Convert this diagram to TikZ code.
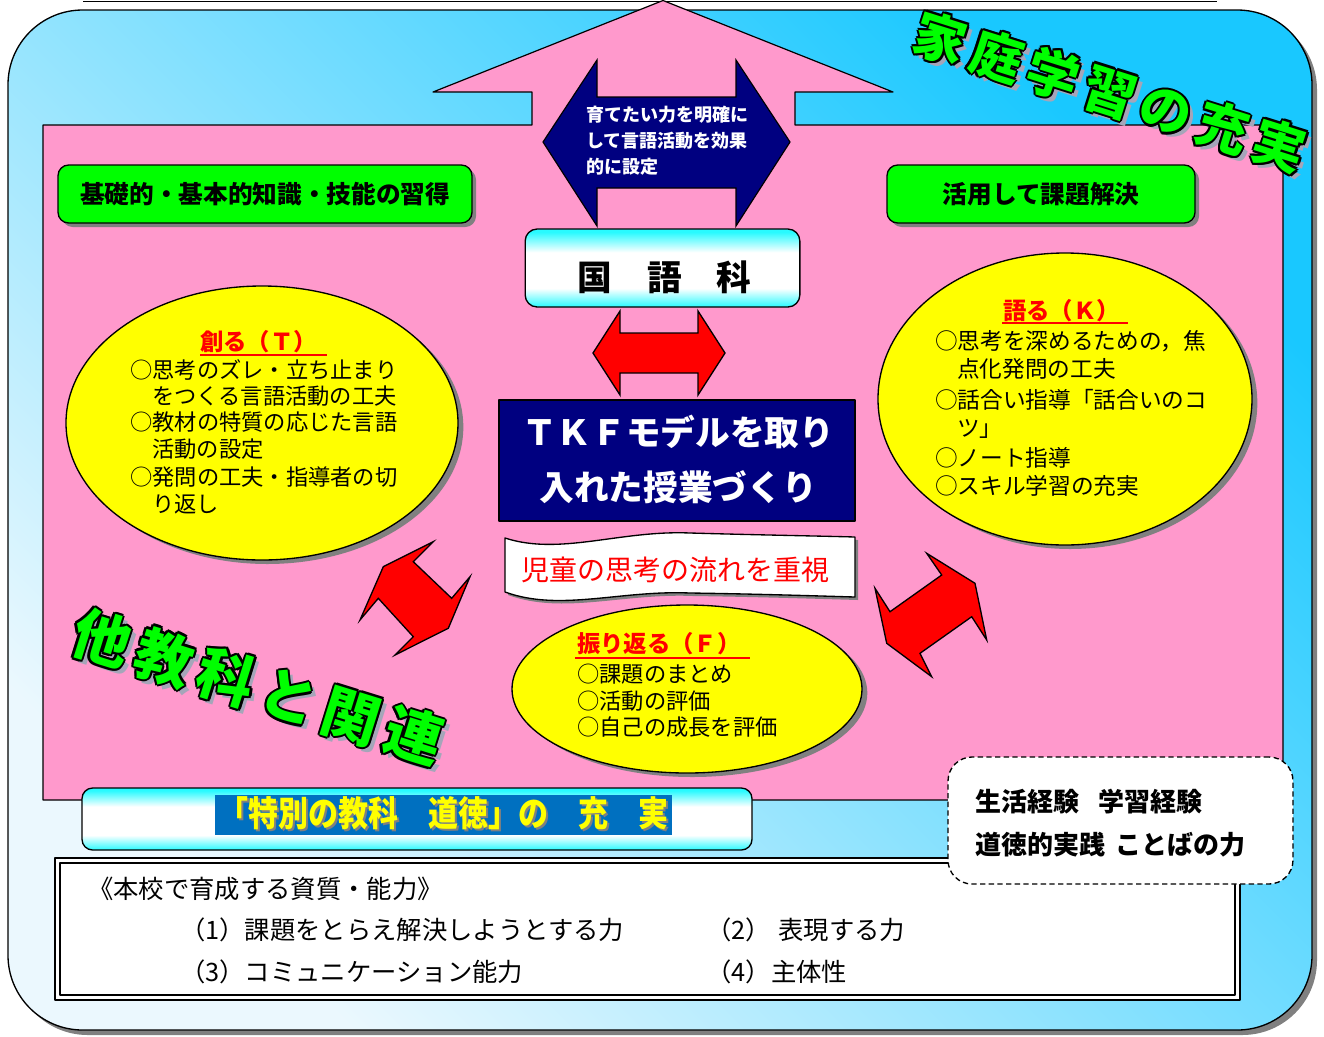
\documentclass[tikz,border=0pt]{standalone}
\usepackage{fontspec}
\setmainfont{Noto Sans CJK JP}
\usetikzlibrary{shapes.geometric,shadows}
\definecolor{pinkbg}{RGB}{255,153,204}
\definecolor{navyc}{RGB}{0,0,128}
\definecolor{greenc}{RGB}{0,255,0}
\definecolor{skyA}{RGB}{25,200,255}
\definecolor{skyM}{RGB}{150,222,252}
\definecolor{skyB}{RGB}{235,248,254}
\definecolor{cyanA}{RGB}{40,250,255}
\definecolor{shadowgray}{RGB}{128,128,128}
\definecolor{bandblue}{RGB}{0,112,192}
\definecolor{titleshadow}{RGB}{165,165,185}
\definecolor{yellowc}{RGB}{255,255,0}
\pgfdeclareverticalshading{cyanband}{100bp}{color(0bp)=(cyanA); color(25bp)=(cyanA); color(37bp)=(white); color(60bp)=(white); color(73bp)=(cyanA); color(100bp)=(cyanA)}
\tikzset{
  boxshadow/.style={drop shadow={shadow xshift=3pt, shadow yshift=-3pt, fill=shadowgray, opacity=1}},
  greenbox/.style={draw, line width=1pt, fill=greenc, rounded corners=8pt, boxshadow, font=\bfseries\fontsize{18.5}{20}\selectfont, inner sep=0pt},
  yellowell/.style={ellipse, draw, line width=1pt, fill=yellowc, inner sep=0pt, drop shadow={shadow xshift=4pt, shadow yshift=-3pt, fill=shadowgray, opacity=1}},
  elltext/.style={anchor=base west, inner sep=0pt, font=\fontsize{16.7}{18}\selectfont},
  elltitle/.style={anchor=base west, inner sep=0pt, text=red, font=\bfseries\fontsize{17.5}{18}\selectfont},
  redarrow/.style={fill=red, draw=black, line width=1pt, line join=miter},
  cyanbox/.style={draw, line width=1pt, shading=cyanband, rounded corners=9pt, inner sep=0pt},
  smallwhite/.style={anchor=base west, inner sep=0pt, text=white, font=\bfseries\fontsize{13.5}{15}\selectfont},
  bottomtext/.style={anchor=base west, inner sep=0pt, font=\fontsize{19}{20}\selectfont},
}
\newcommand{\bigtitle}[6]{%
  \node[rotate=#4, text=titleshadow, inner sep=0pt, font={\bfseries\fontsize{#5}{#5}\selectfont}] at (#2+5,#3+5) {#6};
  \foreach \ox/\oy in {2.2/0,-2.2/0,0/2.2,0/-2.2,1.6/1.6,1.6/-1.6,-1.6/1.6,-1.6/-1.6}
    \node[rotate=#4, text=black, inner sep=0pt, font={\bfseries\fontsize{#5}{#5}\selectfont}] at (#2+\ox,#3+\oy) {#6};
  \node[rotate=#4, text=greenc, inner sep=0pt, font={\bfseries\fontsize{#5}{#5}\selectfont}] (#1) at (#2,#3) {#6};
}
\newcommand{\gp}{\hspace{0.14em}}
\begin{document}
\begin{tikzpicture}[x=0.75pt,y=-0.75pt, line join=round]
\useasboundingbox (0,0) rectangle (1324,1036);

% top line
\draw[line width=1.2pt] (83,1.5) -- (1217,1.5);

% outer rounded panel
\fill[shadowgray, rounded corners=56pt] (13,15) rectangle (1317,1035);
\shade[top color=skyA, middle color=skyM, bottom color=skyB, shading angle=-45, rounded corners=56pt] (8,10) rectangle (1312,1030);
\draw[line width=1pt, rounded corners=56pt] (8,10) rectangle (1312,1030);

% pink house-arrow
\draw[fill=pinkbg, line width=0.9pt] (43,125) -- (532,125) -- (532,92) -- (433,92) -- (663,0.5) -- (893,92) -- (795,92) -- (795,125) -- (1283,125) -- (1283,800) -- (43,800) -- cycle;

% navy double arrow
\draw[fill=navyc, line width=0.9pt, line join=miter] (543,142) -- (597,60) -- (597,97) -- (736,97) -- (736,60) -- (790,142) -- (736,226) -- (736,188) -- (597,188) -- (597,226) -- cycle;
\node[smallwhite] (goal1) at (586,121.3) {育てたい力を明確に};
\node[smallwhite] (goal2) at (586,147.8) {して言語活動を効果};
\node[smallwhite] (goal3) at (586,173.8) {的に設定};

% green boxes
\node[greenbox, minimum width=310.5pt, minimum height=43.5pt] (kiso) at (265,194) {基礎的・基本的知識・技能の習得};
\node[greenbox, minimum width=231pt, minimum height=43.5pt] (katsuyo) at (1041,194) {活用して課題解決};

% kokugo box
\node[cyanbox, minimum width=206pt, minimum height=58.5pt] (kokugo) at (662.5,268) {};
\node[inner sep=0pt, font=\bfseries\fontsize{26}{28}\selectfont] (kokugotext) at (664.5,277) {国　語　科};

% red horizontal double arrow
\draw[redarrow] (593,353) -- (620,311) -- (620,333) -- (698,333) -- (698,311) -- (725,353) -- (698,395) -- (698,373) -- (620,373) -- (620,395) -- cycle;

% TKF box
\node[draw=black, line width=1.5pt, fill=navyc, minimum width=267pt, minimum height=90.75pt, inner sep=0pt] (tkf) at (677,460.5) {};
\node[anchor=base, text=white, inner sep=0pt, font=\bfseries\fontsize{26}{28}\selectfont] (tkf1) at (678,445) {ＴＫＦモデルを取り};
\node[anchor=base, text=white, inner sep=0pt, font=\bfseries\fontsize{26}{28}\selectfont] (tkf2) at (678,500) {入れた授業づくり};

% wave banner
\fill[shadowgray, shift={(3,3)}] (505,538) .. controls (560,556) and (620,530) .. (690,533) .. controls (760,535) and (820,536) .. (855,537) -- (855,597) .. controls (820,596) and (760,594) .. (690,593) .. controls (620,590) and (560,612) .. (505,592) -- cycle;
\draw[fill=white, line width=1pt] (505,538) .. controls (560,556) and (620,530) .. (690,533) .. controls (760,535) and (820,536) .. (855,537) -- (855,597) .. controls (820,596) and (760,594) .. (690,593) .. controls (620,590) and (560,612) .. (505,592) -- cycle;
\node[anchor=base, inner sep=0pt, text=red, font=\fontsize{21}{22}\selectfont] (flow) at (675,580) {児童の思考の流れを重視};

% ellipses
\node[yellowell, minimum width=294pt, minimum height=205.5pt] (ellT) at (262,423) {};
\node[yellowell, minimum width=280.5pt, minimum height=219pt] (ellK) at (1065,399) {};
\node[yellowell, minimum width=262.5pt, minimum height=126pt] (ellF) at (687,689) {};

% T ellipse text
\node[elltitle] (ttitle) at (200,350) {創る（Ｔ）};
\draw[red, line width=1.5pt] (200,355) -- (327,355);
\node[elltext] (t1) at (130,378.5) {○思考のズレ・立ち止まり};
\node[elltext] (t2) at (152,404.5) {をつくる言語活動の工夫};
\node[elltext] (t3) at (130,430.5) {○教材の特質の応じた言語};
\node[elltext] (t4) at (152,457.5) {活動の設定};
\node[elltext] (t5) at (130,485) {○発問の工夫・指導者の切};
\node[elltext] (t6) at (152,512) {り返し};

% K ellipse text
\node[elltitle] (ktitle) at (1003,319) {語る（Ｋ）};
\draw[red, line width=1.5pt] (1002,323) -- (1128,323);
\node[elltext, font=\fontsize{17}{18}\selectfont] (k1) at (935,349) {○思考を深めるための，焦};
\node[elltext, font=\fontsize{17}{18}\selectfont] (k2) at (957,377) {点化発問の工夫};
\node[elltext, font=\fontsize{17}{18}\selectfont] (k3) at (935,408) {○話合い指導「話合いのコ};
\node[elltext, font=\fontsize{17}{18}\selectfont] (k4) at (957,436) {ツ」};
\node[elltext, font=\fontsize{17}{18}\selectfont] (k5) at (935,466.5) {○ノート指導};
\node[elltext, font=\fontsize{17}{18}\selectfont] (k6) at (935,494) {○スキル学習の充実};

% F ellipse text
\node[elltitle] (ftitle) at (577,652) {振り返る（Ｆ）};
\draw[red, line width=1.5pt] (575,657.5) -- (750,657.5);
\node[elltext] (f1) at (577,682.5) {○課題のまとめ};
\node[elltext] (f2) at (577,709.5) {○活動の評価};
\node[elltext] (f3) at (577,735.5) {○自己の成長を評価};

% red diagonal double arrows
\draw[redarrow] (383.3,566.7) -- (433.3,541.7) -- (413.3,561.7) -- (451.7,598.3) -- (470,576.7) -- (448.3,628.3) -- (395,655) -- (413.3,636.7) -- (378.3,598.3) -- (360,620) -- cycle;
\draw[redarrow] (975,583.3) -- (926.7,553.3) -- (941.7,575) -- (890,611.7) -- (875,588.3) -- (886.7,643.3) -- (931.7,676.7) -- (920,653.3) -- (971.7,616.7) -- (986.7,640) -- cycle;

% big rotated titles
\bigtitle{katei}{1110}{92}{-17.5}{39}{家\gp 庭\gp 学\gp 習\gp の\gp 充\gp 実}
\bigtitle{takyoka}{258}{687}{-17.3}{43}{他\gp 教\gp 科\gp と\gp 関\gp 連}

% moral education banner
\node[cyanbox, rounded corners=8pt, minimum width=502.5pt, minimum height=46.5pt] (doutoku) at (417,819) {};
\node[fill=bandblue, inner sep=0pt, minimum width=342.75pt, minimum height=30pt] (doutokuband) at (443.5,815) {};
\node[anchor=base, inner sep=0pt, text=shadowgray, font=\bfseries\fontsize{25}{26}\selectfont] at (445.5,828.5) {\scalebox{0.9}[1.05]{「特別の教科　道徳」の　充　実}};
\node[anchor=base, inner sep=0pt, text=yellowc, font=\bfseries\fontsize{25}{26}\selectfont] (doutokutext) at (443.5,826.5) {\scalebox{0.9}[1.05]{「特別の教科　道徳」の　充　実}};

% bottom box
\draw[fill=white, line width=1.6pt] (55,858) rectangle (1240,1000);
\draw[line width=0.8pt] (60,863) rectangle (1235,995);
\node[bottomtext] (ability) at (88,898) {《本校で育成する資質・能力》};
\node[bottomtext] (ab1) at (180,939.5) {（1）課題をとらえ解決しようとする力};
\node[bottomtext] (ab2) at (706,939.5) {（2）\hspace{0.3em}表現する力};
\node[bottomtext] (ab3) at (180,981.5) {（3）コミュニケーション能力};
\node[bottomtext] (ab4) at (706,981.5) {（4）主体性};

% dashed experience box
\node[draw, dash pattern=on 4pt off 2.5pt, line width=1pt, fill=white, rounded corners=18pt, minimum width=258.75pt, minimum height=95.25pt, inner sep=0pt] (exp) at (1120.5,820.5) {};
\node[anchor=base west, inner sep=0pt, font=\bfseries\fontsize{19.5}{20}\selectfont] (exp1) at (975,811.5) {生活経験\hspace{0.75em}学習経験};
\node[anchor=base west, inner sep=0pt, font=\bfseries\fontsize{19.5}{20}\selectfont] (exp2) at (975,854) {道徳的実践\hspace{0.4em}ことばの力};
\end{tikzpicture}
\end{document}
